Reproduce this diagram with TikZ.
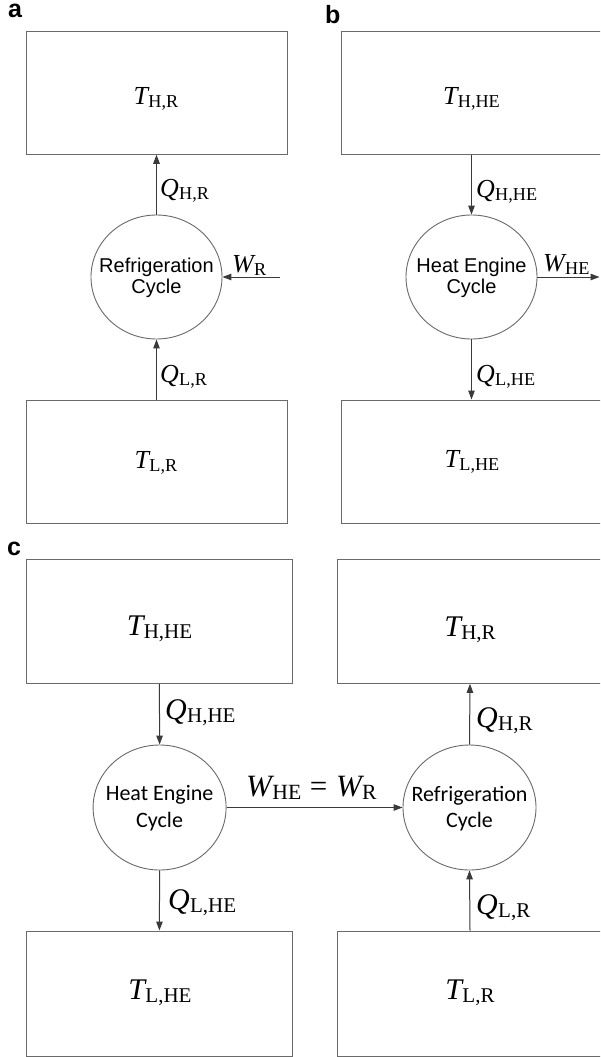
\documentclass[tikz,border=0pt]{standalone}
\usepackage{fontspec}
\usepackage{graphicx}
\setmainfont{Liberation Serif}
\newfontfamily\serifrm{Liberation Serif}
\newfontfamily\arialf{Liberation Sans}
\newfontfamily\calibf{Carlito}
\usetikzlibrary{arrows.meta,shapes.geometric}
\definecolor{boxgray}{HTML}{6A6A6A}
\definecolor{linegray}{HTML}{3A3A3A}
\newcommand\mq[2]{{\serifrm\itshape #1}\kern0.01em{\serifrm\raisebox{-0.12em}{\scalebox{0.7}{#2}}}}
\tikzset{
  resbox/.style={draw=boxgray, line width=1pt, rectangle, inner sep=0pt},
  cyc/.style={draw=boxgray, ellipse, line width=0.9pt, minimum width=131pt, minimum height=124pt, inner sep=0pt},
  flow/.style={draw=linegray, line width=1pt, -{Triangle[length=9pt,width=6.5pt]}},
  labs/.style={inner sep=0pt, anchor=base west, font=\fontsize{26}{30}\selectfont},
  labc/.style={inner sep=0pt, anchor=base west, font=\fontsize{30}{34}\selectfont},
  tems/.style={inner sep=0pt, anchor=base, font=\fontsize{26}{30}\selectfont},
  temc/.style={inner sep=0pt, anchor=base, font=\fontsize{30}{34}\selectfont},
  cyta/.style={inner sep=0pt, anchor=base, font=\arialf\fontsize{20}{22}\selectfont},
  cytc/.style={inner sep=0pt, anchor=base, font=\calibf\fontsize{22}{24}\selectfont},
  panel/.style={inner sep=0pt, anchor=base west, font=\arialf\bfseries\fontsize{25}{28}\selectfont}
}
\begin{document}
\begin{tikzpicture}[x=1pt,y=-1pt]
\useasboundingbox (0,0) rectangle (600,1057);
\fill[white] (0,0) rectangle (600,1057);
\clip (0,0) rectangle (600,1057);

% panel labels
\node[panel] (pa) at (8,18) {a};
\node[panel] (pb) at (325,24) {b};
\node[panel] (pc) at (7,555) {c};

% ---------- panel a ----------
\node[resbox, minimum width=261pt, minimum height=122.5pt] (aH) at (156.5,93) {};
\node[resbox, minimum width=261pt, minimum height=123pt] (aL) at (156.5,461.5) {};
\node[cyc] (aC) at (156.5,277) {};
\node[tems] (aHt) at (156,104) {\mq{T}{H,R}};
\node[tems] (aLt) at (156,468) {\mq{T}{L,R}};
\node[cyta] (aC1) at (156.5,272) {Refrigeration};
\node[cyta] (aC2) at (156.5,293) {Cycle};
\draw[flow] (aC.north) -- (aH.south);
\draw[flow] (aL.north) -- (aC.south);
\coordinate (aW) at (280,277);
\draw[flow] (aW) -- (aC.east);
\node[labs] (aQH) at (160,196) {\mq{Q}{H,R}};
\node[labs] (aQL) at (160,382) {\mq{Q}{L,R}};
\node[labs] (aWl) at (232,272) {\mq{W}{R}};

% ---------- panel b ----------
\node[resbox, minimum width=261pt, minimum height=122.5pt] (bH) at (471.5,93) {};
\node[resbox, minimum width=261pt, minimum height=123pt] (bL) at (471.5,461.5) {};
\node[cyc] (bC) at (471.5,277) {};
\node[tems] (bHt) at (471.5,104) {\mq{T}{H,HE}};
\node[tems] (bLt) at (472,467) {\mq{T}{L,HE}};
\node[cyta] (bC1) at (471.5,272) {Heat Engine};
\node[cyta] (bC2) at (471.5,293) {Cycle};
\draw[flow] (bH.south) -- (bC.north);
\draw[flow] (bC.south) -- (bL.north);
\coordinate (bW) at (599.5,277);
\draw[flow] (bC.east) -- (bW);
\node[labs] (bQH) at (476,197) {\mq{Q}{H,HE}};
\node[labs] (bQL) at (476,382) {\mq{Q}{L,HE}};
\node[labs] (bWl) at (543,271) {\mq{W}{HE}};

% ---------- panel c ----------
\node[resbox, minimum width=265.3pt, minimum height=124pt] (cH1) at (159.4,621.3) {};
\node[resbox, minimum width=265.3pt, minimum height=124pt] (cH2) at (470,621.3) {};
\node[resbox, minimum width=265.3pt, minimum height=125pt] (cL1) at (159.4,993.5) {};
\node[resbox, minimum width=265.3pt, minimum height=125pt] (cL2) at (470,993.5) {};
\node[cyc, minimum width=133pt, minimum height=125pt] (cC1) at (159.6,807.5) {};
\node[cyc, minimum width=133pt, minimum height=125pt] (cC2) at (469.5,807.5) {};
\node[temc] (cH1t) at (159.5,635) {\mq{T}{H,HE}};
\node[temc] (cH2t) at (470,636) {\mq{T}{H,R}};
\node[temc] (cL1t) at (160,999) {\mq{T}{L,HE}};
\node[temc] (cL2t) at (470,999) {\mq{T}{L,R}};
\node[cytc] (cC1a) at (159.6,800) {Heat Engine};
\node[cytc] (cC1b) at (159.6,827) {Cycle};
\node[cytc] (cC2a) at (469.5,801) {Refrigeration};
\node[cytc] (cC2b) at (469.5,827) {Cycle};
\draw[flow] (cH1.south) -- (cC1.north);
\draw[flow] (cC1.south) -- (cL1.north);
\draw[flow] (cC2.north) -- (cH2.south);
\draw[flow] (cL2.north) -- (cC2.south);
\draw[flow] (cC1.east) -- (cC2.west);
\node[labc] (cQH1) at (165,719) {\mq{Q}{H,HE}};
\node[labc] (cQL1) at (168,909) {\mq{Q}{L,HE}};
\node[labc] (cQH2) at (476,727) {\mq{Q}{H,R}};
\node[labc] (cQL2) at (476,914) {\mq{Q}{L,R}};
\node[labc, font=\fontsize{31}{34}\selectfont] (cW) at (246,796) {\mq{W}{HE}\kern0.28em{\serifrm =}\kern0.28em\mq{W}{R}};
\end{tikzpicture}
\end{document}
